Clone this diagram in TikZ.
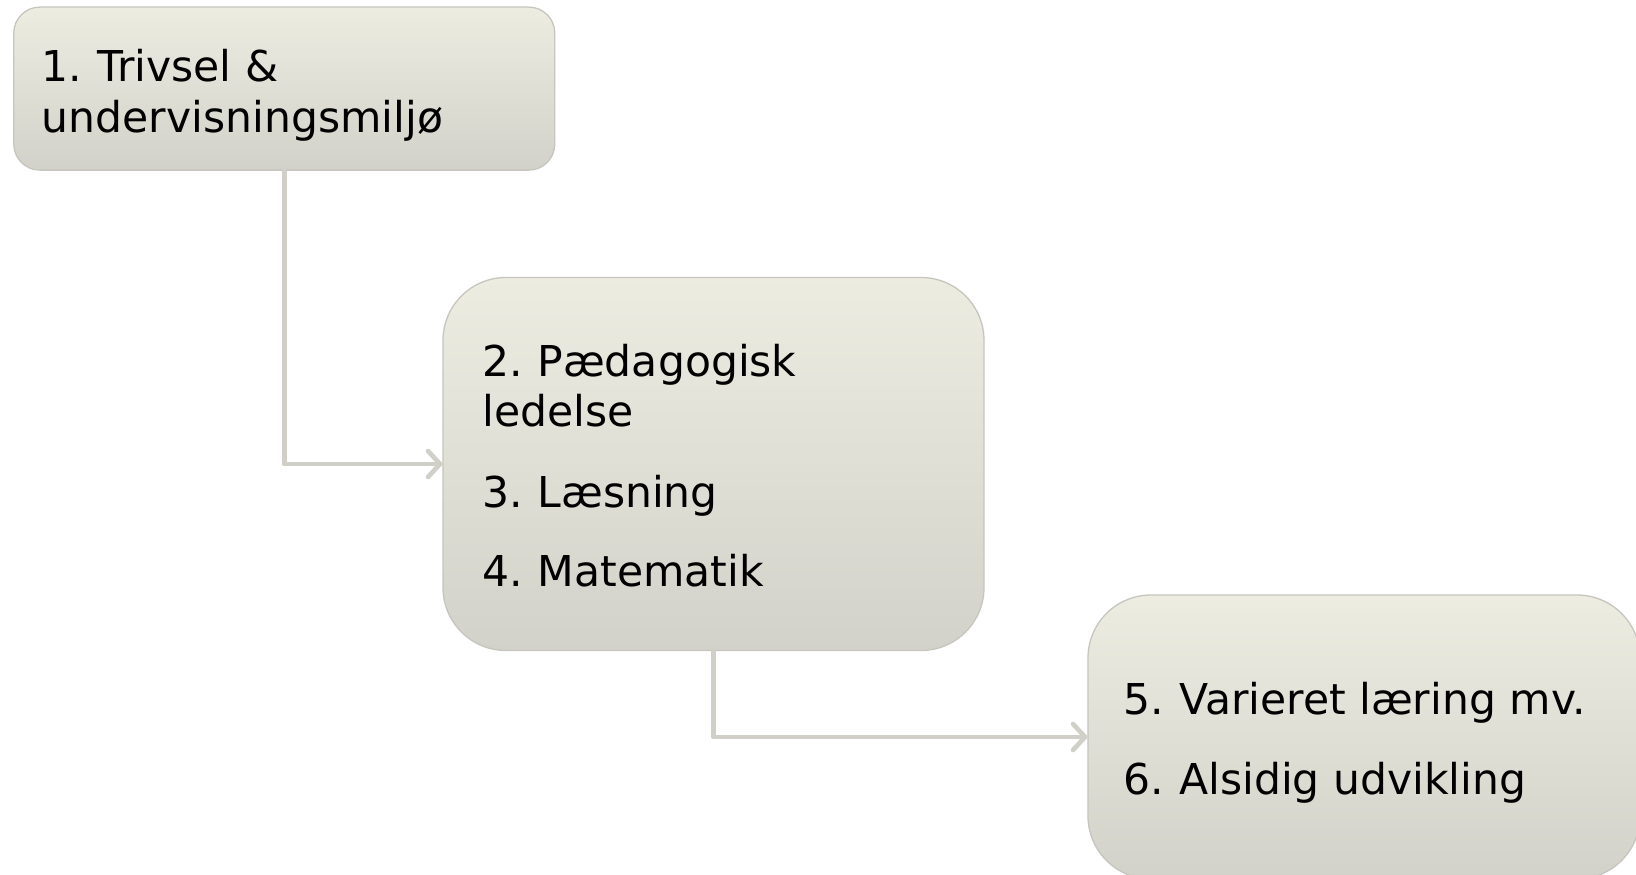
\documentclass[tikz,border=0pt]{standalone}
\usepackage{fontspec}
\setmainfont{DejaVu Sans}
\usetikzlibrary{arrows.meta}
\definecolor{boxtop}{HTML}{ECECE1}
\definecolor{boxbot}{HTML}{D2D2CA}
\definecolor{boxline}{HTML}{C6C6BE}
\definecolor{conn}{HTML}{D0D0C8}
\tikzset{
  stagebox/.style={draw=boxline, line width=1.3pt, top color=boxtop, bottom color=boxbot, shading angle=0, inner sep=0pt},
  label/.style={anchor=base west, inner sep=0pt, font=\fontsize{42.5}{50}\selectfont, text=black},
  connector/.style={draw=conn, line width=4.6pt, line cap=round, line join=round,
    -{Straight Barb[length=12pt, width=26pt, line cap=round, line join=round]}},
}
\newcommand{\nsp}{\hspace{0.35em}}
\begin{document}
\begin{tikzpicture}[x=1pt, y=-1pt]
\useasboundingbox (0,0) rectangle (1636,875);
\clip (0,0) rectangle (1636,875);
\fill[white] (0,0) rectangle (1636,875);
% boxes
\node[stagebox, rounded corners=26pt, minimum width=541pt, minimum height=163pt] (b1) at (284.3,88.6) {};
\node[stagebox, rounded corners=63pt, minimum width=541pt, minimum height=373pt] (b2) at (713.5,464) {};
\node[stagebox, rounded corners=63pt, minimum width=552pt, minimum height=284pt] (b3) at (1364,737) {};
% connectors
\draw[connector] (b1.south) |- (b2.west);
\draw[connector] (b2.south) |- (b3.west);
% texts
\node[label] (t1a) at (41.7,81.4) {1.\nsp Trivsel \&};
\node[label] (t1b) at (41.7,132.5) {undervisningsmiljø};
\node[label] (t2a) at (482,376.7) {2.\nsp Pædagogisk};
\node[label] (t2b) at (482,426.7) {ledelse};
\node[label] (t3) at (482,507) {3.\nsp Læsning};
\node[label] (t4) at (482,586) {4.\nsp Matematik};
\node[label] (t5) at (1123.7,714.7) {5.\nsp Varieret læring mv.};
\node[label] (t6) at (1123.7,794) {6.\nsp Alsidig udvikling};
\end{tikzpicture}
\end{document}
